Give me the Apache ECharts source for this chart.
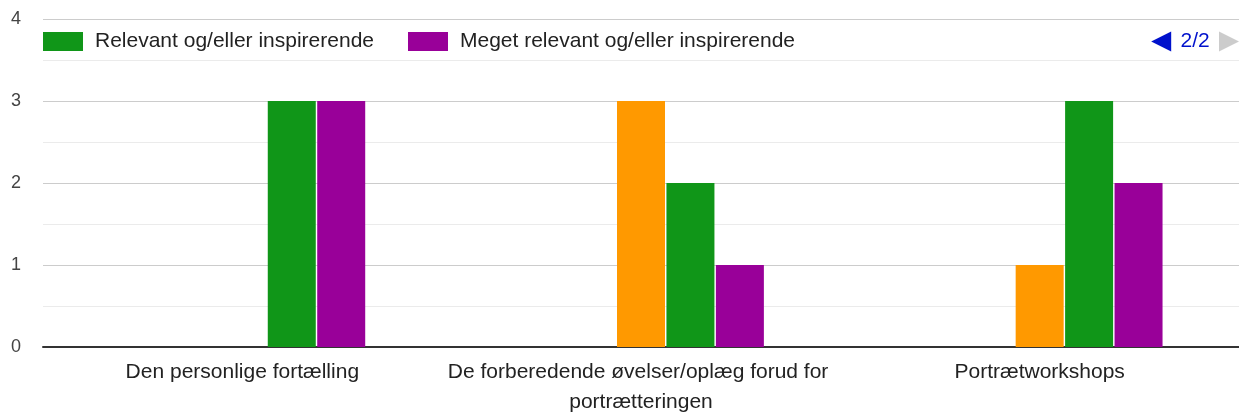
<!DOCTYPE html>
<html>
<head>
<meta charset="utf-8">
<script src="https://cdn.jsdelivr.net/npm/echarts@6/dist/echarts.min.js"></script>
<style>
  html, body { margin: 0; padding: 0; background: #fff; }
  #main { width: 1239px; height: 413px; }
</style>
</head>
<body>
<div id="main"></div>
<script>
var categories = ['Den personlige fortælling', 'De forberedende øvelser/oplæg forud for portrætteringen', 'Portrætworkshops'];
var seriesNames = ['Ikke relevant/inspirerende', 'Lidt relevant/inspirerende', 'Delvist relevant/inspirerende', 'Relevant og/eller inspirerende', 'Meget relevant og/eller inspirerende'];
var seriesColors = ['#3366cc', '#dc3912', '#ff9900', '#109618', '#990099'];
var ikke = [0, 0, 0];
var lidt = [0, 0, 0];
var delvist = [0, 3, 1];
var relevant = [3, 2, 3];
var meget = [3, 1, 2];
var yTicks = [0, 1, 2, 3, 4];

var values = [ikke, lidt, delvist, relevant, meget];
var font = 'Arial, "Liberation Sans", sans-serif';

var chart = echarts.init(document.getElementById('main'));

var series = [];
for (var i = 0; i < values.length; i++) {
    series.push({
        name: seriesNames[i],
        type: 'bar',
        barWidth: 48,
        barGap: '3%',
        itemStyle: { color: seriesColors[i] },
        emphasis: { disabled: true },
        data: values[i]
    });
}

chart.setOption({
    animation: false,
    color: seriesColors,
    textStyle: { fontFamily: font },
    legend: {
        type: 'scroll',
        left: 43,
        right: 0,
        top: 31,
        padding: 0,
        icon: 'rect',
        itemWidth: 40,
        itemHeight: 19,
        itemGap: 34,
        scrollDataIndex: 3,
        textStyle: { fontSize: 21, color: '#222', fontFamily: font, padding: [0, 0, 0, 7] },
        pageIcons: {
            horizontal: ['path://M20,0L0,10L20,20z', 'path://M0,0L20,10L0,20z']
        },
        pageIconColor: '#0011cc',
        pageIconInactiveColor: '#cccccc',
        pageIconSize: [20, 20],
        pageButtonItemGap: 0,
        pageTextStyle: { color: '#0011cc', fontSize: 21, fontFamily: font },
        pageFormatter: '{current}/{total}',
        data: seriesNames
    },
    grid: {
        left: 43,
        right: 0,
        top: 19,
        bottom: 66,
        outerBoundsMode: 'none'
    },
    xAxis: {
        type: 'category',
        data: categories,
        axisLine: { lineStyle: { color: '#333', width: 2 } },
        axisTick: { show: false },
        axisLabel: {
            fontSize: 21,
            color: '#222',
            fontFamily: font,
            margin: 10,
            lineHeight: 30,
            width: 398,
            overflow: 'break',
            interval: 0
        }
    },
    yAxis: {
        type: 'value',
        min: yTicks[0],
        max: yTicks[yTicks.length - 1],
        interval: 1,
        axisLine: { show: false },
        axisTick: { show: false },
        axisLabel: {
            fontSize: 18,
            color: '#444',
            fontFamily: font,
            margin: 22
        },
        splitLine: { lineStyle: { color: '#cccccc', width: 1 } },
        minorTick: { show: false, splitNumber: 2 },
        minorSplitLine: { show: true, lineStyle: { color: '#ebebeb', width: 1 } }
    },
    series: series
});
</script>
</body>
</html>
